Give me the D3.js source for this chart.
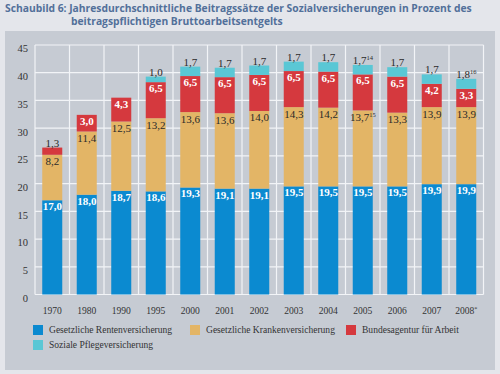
<!DOCTYPE html>
<html><head><meta charset="utf-8">
<script src="https://cdn.jsdelivr.net/npm/d3@7"></script>
<style>
html,body{margin:0;padding:0;background:#e4e6eb;}
svg{display:block;}
</style></head>
<body>
<svg id="chart" width="500" height="374"></svg>
<script>
const years = ["1970","1980","1990","1995","2000","2001","2002","2003","2004","2005","2006","2007","2008"];
const yearSup = ["","","","","","","","","","","","","*"];
const renten  = [17.0,18.0,18.7,18.6,19.3,19.1,19.1,19.5,19.5,19.5,19.5,19.9,19.9];
const kranken = [8.2,11.4,12.5,13.2,13.6,13.6,14.0,14.3,14.2,13.7,13.3,13.9,13.9];
const arbeit  = [1.3,3.0,4.3,6.5,6.5,6.5,6.5,6.5,6.5,6.5,6.5,4.2,3.3];
const pflege  = [0,0,0,1.0,1.7,1.7,1.7,1.7,1.7,1.7,1.7,1.7,1.8];
const krankenSup = ["","","","","","","","","","15","","",""];
const pflegeSup  = ["","","","","","","","","","14","","","16"];
const yTicks = [0,5,10,15,20,25,30,35,40,45];
const seriesNames = ["Gesetzliche Rentenversicherung","Gesetzliche Krankenversicherung","Bundesagentur für Arbeit","Soziale Pflegeversicherung"];
const seriesColors = ["#0b8ad0","#e3b566","#d5393e","#5ac7d5"];
const titleLines = ["Schaubild 6: Jahresdurchschnittliche Beitragssätze der Sozialversicherungen in Prozent des","beitragspflichtigen Bruttoarbeitsentgelts"];

const svg = d3.select("#chart");
const serif = "'Liberation Serif','DejaVu Serif',serif";

// panel
svg.append("rect").attr("x",5).attr("y",31).attr("width",490).attr("height",339).attr("fill","#c6cbd3");

// title
const tcol = "#52709a";
const t1 = svg.append("text").attr("x",5).attr("y",12).attr("fill",tcol)
  .attr("font-family","'Open Sans','DejaVu Sans',sans-serif").attr("font-weight","bold").attr("font-size",11)
  .text(titleLines[0]);
const w = t1.node().getComputedTextLength();
const fs = 11*467/w;
t1.attr("font-size",fs);
svg.append("text").attr("x",71).attr("y",25).attr("fill",tcol)
  .attr("font-family","'Open Sans','DejaVu Sans',sans-serif").attr("font-weight","bold").attr("font-size",fs)
  .text(titleLines[1]);

const x = d3.scaleBand().domain(years).range([35,483.5]).paddingInner(0.42).paddingOuter(0.21);
const band = d3.scaleBand().domain(years).range([35,483.5]);
const y = d3.scaleLinear().domain([0,45]).range([294.5,45]);

// grid
const g = svg.append("g");
g.selectAll("line.h").data(yTicks).join("line")
  .attr("x1",35).attr("x2",483.5).attr("y1",d=>y(d)).attr("y2",d=>y(d))
  .attr("stroke","#f2f4f7").attr("stroke-width",1.2);
const vlines = d3.range(years.length+1).map(i=> i<years.length ? band(years[i]) : band.range()[1]);
g.selectAll("line.v").data(vlines).join("line")
  .attr("x1",d=>d).attr("x2",d=>d).attr("y1",y(45)).attr("y2",y(0))
  .attr("stroke","#f2f4f7").attr("stroke-width",1.2);

// y axis
const yAxis = d3.axisLeft(y).tickValues(yTicks).tickSize(0).tickPadding(7);
const ya = svg.append("g").attr("transform","translate(35,3.5)").call(yAxis);
ya.select(".domain").remove();
ya.selectAll("text").attr("font-family",serif).attr("font-size",10.5).attr("fill","#333");

// x axis
const xAxis = d3.axisBottom(band).tickSize(0).tickPadding(0).tickFormat((d,i)=>d);
const xa = svg.append("g").attr("transform","translate(0,306)").call(xAxis);
xa.select(".domain").remove();
xa.selectAll("text").attr("font-family",serif).attr("font-size",11).attr("fill","#333").attr("dy","0.7em")
  .attr("transform","scale(0.87,1)");
xa.selectAll(".tick text").each(function(d,i){
  if(yearSup[i]){ d3.select(this).append("tspan").attr("font-size",7).attr("dy","-0.4em").text(yearSup[i]); }
});

// stacked data
const data = years.map((yr,i)=>({year:yr, r:renten[i], k:kranken[i], a:arbeit[i], p:pflege[i], i}));
const stack = d3.stack().keys(["r","k","a","p"])(data);
const bars = svg.append("g");
stack.forEach((layer,li)=>{
  bars.selectAll(null).data(layer.filter(d=>d[1]-d[0]>0)).join("rect")
    .attr("x",d=>x(d.data.year)).attr("width",x.bandwidth())
    .attr("y",d=>y(d[1])).attr("height",d=>y(d[0])-y(d[1]))
    .attr("fill",seriesColors[li]);
});

const fmt = v => v.toFixed(1).replace(".",",");
const labels = svg.append("g").attr("font-family",serif).attr("font-size",11).attr("text-anchor","middle");
function lab(layerIdx, key, inside, bold, color, sups){
  labels.selectAll(null).data(stack[layerIdx].filter(d=>d[1]-d[0]>0)).join("text")
    .attr("x",d=>x(d.data.year)+x.bandwidth()/2)
    .attr("y",d=>inside(d))
    .attr("fill",d=>typeof color==="function"?color(d):color)
    .attr("font-weight",d=>typeof bold==="function"?bold(d):bold)
    .each(function(d){
      const t = d3.select(this);
      t.append("tspan").text(fmt(d.data[key]));
      const s = sups ? sups[d.data.i] : "";
      if(s){ t.append("tspan").attr("font-size",6.5).attr("dy","-0.6em").text(s); }
    });
}
lab(0,"r",d=>y(d[1])+10,"bold","#fff",null);
lab(1,"k",d=>y(d[1])+10.5,"normal","#2a2a2a",krankenSup);
const small = d=> d[1]-d[0] < 2;
lab(2,"a",d=> small(d) ? y(d[1])-1 : y(d[1])+10, d=>small(d)?"normal":"bold", d=>small(d)?"#2a2a2a":"#fff", null);
lab(3,"p",d=>y(d[1])-1,"normal","#2a2a2a",pflegeSup);

// legend
const legPos = [[33,325],[190,325],[346,325],[33,340]];
const leg = svg.append("g");
seriesNames.forEach((n,i)=>{
  const [lx,ly] = legPos[i];
  leg.append("rect").attr("x",lx).attr("y",ly).attr("width",10).attr("height",10).attr("fill",seriesColors[i]);
  leg.append("text").attr("transform",`translate(${lx+16},${ly+8}) scale(0.91,1)`)
    .attr("font-family",serif).attr("font-size",10.5).attr("fill","#333").text(n);
});
</script>
</body></html>
